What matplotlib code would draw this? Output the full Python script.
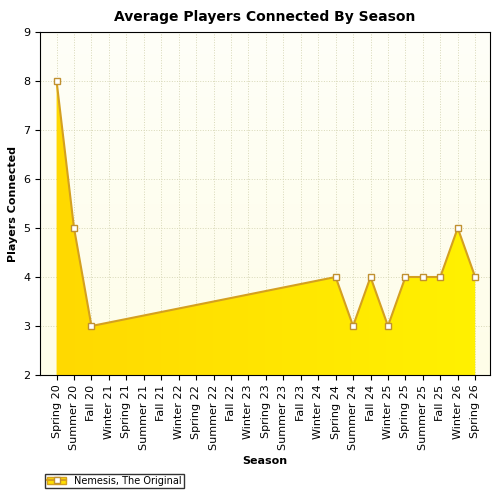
import matplotlib
matplotlib.use("Agg")
import matplotlib.pyplot as plt
import numpy as np
from matplotlib.lines import Line2D
from matplotlib.patches import Patch
from matplotlib.colors import LinearSegmentedColormap
from matplotlib.legend_handler import HandlerTuple

seasons = ["Spring 20","Summer 20","Fall 20","Winter 21","Spring 21","Summer 21","Fall 21",
           "Winter 22","Spring 22","Summer 22","Fall 22","Winter 23","Spring 23","Summer 23",
           "Fall 23","Winter 24","Spring 24","Summer 24","Fall 24","Winter 25","Spring 25",
           "Summer 25","Fall 25","Winter 26","Spring 26"]
data_seasons = ["Spring 20","Summer 20","Fall 20","Spring 24","Summer 24","Fall 24","Winter 25",
                "Spring 25","Summer 25","Fall 25","Winter 26","Spring 26"]
players = [8,5,3,4,3,4,3,4,4,4,5,4]

x = [seasons.index(s) for s in data_seasons]

fig = plt.figure(figsize=(5,5), dpi=100)
ax = fig.add_axes([0.08, 0.25, 0.9, 0.686])
ax.set_xlim(-0.95, len(seasons)-1+0.85)
ax.set_ylim(2, 9)

bg = np.linspace(0,1,256).reshape(-1,1)
bgcm = LinearSegmentedColormap.from_list("bg", ["#fefde8", "#fffff8"])
ax.imshow(bg, cmap=bgcm, extent=[*ax.get_xlim(), 2, 9], aspect="auto", origin="lower", zorder=0)

poly = ax.fill_between(x, players, 2, color="none", zorder=2)
fcm = LinearSegmentedColormap.from_list("f", ["#ffd800", "#fff200"])
grad = np.linspace(0,1,256).reshape(1,-1)
im = ax.imshow(grad, cmap=fcm, extent=[*ax.get_xlim(), 2, 9], aspect="auto", zorder=2)
im.set_clip_path(poly.get_paths()[0], transform=ax.transData)
ax.plot(x, players, color="#d4a020", lw=1.5, marker="s", ms=5, mfc="white", mec="#c09030", zorder=3)

ax.grid(True, color="#d8d8b8", ls=":", lw=0.7, zorder=1)
ax.set_xticks(range(len(seasons)))
ax.set_xticklabels(seasons, rotation=90, fontsize=7.5)
ax.set_yticks(range(2,10))
ax.tick_params(labelsize=8)
ax.set_title("Average Players Connected By Season", fontsize=10, fontweight="bold", pad=8)
ax.set_xlabel("Season", fontsize=8, fontweight="bold")
ax.set_ylabel("Players Connected", fontsize=8, fontweight="bold")

h = (Patch(facecolor="#ffe000", edgecolor="#d4a020"),
     Line2D([], [], color="#d4a020", marker="s", ms=5, mfc="white", mec="#c09030"))
fig.legend([h], ["Nemesis, The Original"], loc="lower left", bbox_to_anchor=(0.08, 0.015),
           fontsize=7, frameon=True, fancybox=False, edgecolor="black", borderpad=0.2,
           handlelength=2, handler_map={tuple: HandlerTuple(ndivide=1)})
fig.savefig("out.png")
